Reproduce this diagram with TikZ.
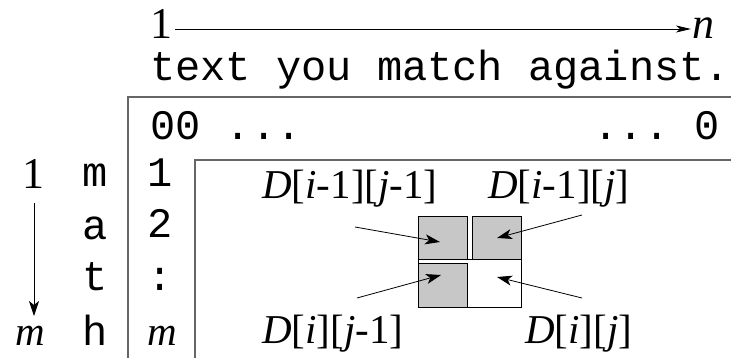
\documentclass[tikz,border=0pt]{standalone}
\usepackage{fontspec}
\setmainfont{Liberation Serif}
\setmonofont{Liberation Mono}
\usetikzlibrary{arrows.meta}
\begin{document}
\begin{tikzpicture}[x=1pt,y=-1pt,
  lbl/.style={inner sep=0pt, font=\fontsize{41}{41}\selectfont},
  serif/.style={inner sep=0pt, font=\fontsize{44}{44}\selectfont},
  mono/.style={inner sep=0pt, font=\fontsize{42}{42}\selectfont\ttfamily},
  frame/.style={draw=black!60, line width=1.3pt},
  cell/.style={draw=black, line width=0.9pt, fill=black!22},
  arr/.style={line width=0.8pt, -{Stealth[length=15pt,width=10pt,inset=4pt]}},
  toparr/.style={line width=0.8pt, -{Stealth[length=15pt,width=7pt,inset=4pt]}}]
\useasboundingbox (0,0) rectangle (731,358);
% top arrow 1 -> n
\node[serif, anchor=base] (one) at (161,39) {1};
\node[serif, anchor=base west] (nn) at (692,39) {\textit{n}};
\coordinate (ay) at (0,29);
\draw[toparr] ([xshift=3pt]one.east |- ay) -- ([xshift=-1pt]nn.west |- ay);
% text
\node[mono, anchor=base west] (txt) at (150,81) {text you match against.};
% frames
\draw[frame] (731,97) -- (128,97) -- (128,358);
\draw[frame] (731,160) -- (195,160) -- (195,358);
% zero row
\node[mono, anchor=base west] (zl) at (150,140) {00 ...};
\node[mono, anchor=base east] (zr) at (720,140) {... 0};
% left column
\node[serif, anchor=base] (l1) at (34,189) {1};
\node[serif, font=\fontsize{41}{41}\selectfont, anchor=base] (lm) at (30,345) {\textit{m}};
\draw[arr] (l1.south |- 0,203) -- (l1.south |- 0,316);
% pattern letters
\node[mono, anchor=base] (pm) at (95,187) {m};
\node[mono, anchor=base] (pa) at (95,240) {a};
\node[mono, anchor=base] (pt) at (95,290) {t};
\node[mono, anchor=base] (ph) at (95,345) {h};
% row indices
\node[mono, anchor=base] (r1) at (160,187) {1};
\node[mono, anchor=base] (r2) at (160,238) {2};
\node[mono, anchor=base] (r3) at (160,290) {:};
\node[serif, font=\fontsize{41}{41}\selectfont, anchor=base] (r4) at (162,345) {\textit{m}};
% cells
\draw[draw=black, line width=0.9pt, fill=white] (418,259) rectangle (521,307);
\path[cell] (418,216) rectangle (467,259);
\path[cell] (472,216) rectangle (521,259);
\path[cell] (418,263) rectangle (467,307);
\coordinate (htl) at (440,242);
\coordinate (htr) at (497,238);
\coordinate (hbl) at (441,275);
\coordinate (hbr) at (497,277);
% labels
\node[lbl, anchor=base west] (d1) at (262,199) {\textit{D}[\textit{i}-1][\textit{j}-1]};
\node[lbl, anchor=base west] (d2) at (488,199) {\textit{D}[\textit{i}-1][\textit{j}]};
\node[lbl, anchor=base west] (d3) at (262,343) {\textit{D}[\textit{i}][\textit{j}-1]};
\node[lbl, anchor=base west] (d4) at (525,343) {\textit{D}[\textit{i}][\textit{j}]};
\coordinate (s1) at (355,227);
\coordinate (s2) at (582,215);
\coordinate (s3) at (357,298);
\coordinate (s4) at (582,298);
\draw[arr] (s1) -- (htl);
\draw[arr] (s2) -- (htr);
\draw[arr] (s3) -- (hbl);
\draw[arr] (s4) -- (hbr);
\end{tikzpicture}
\end{document}
